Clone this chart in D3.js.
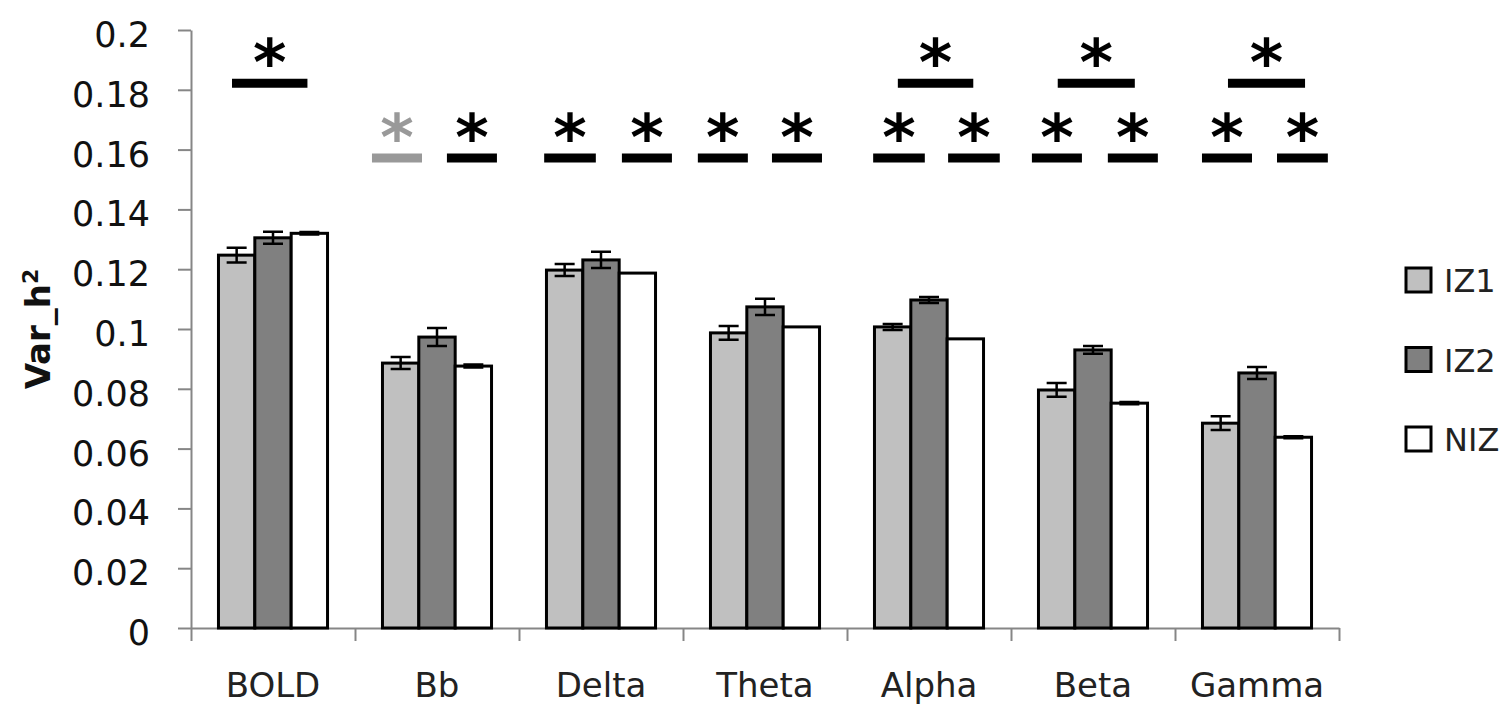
<!DOCTYPE html>
<html>
<head>
<meta charset="utf-8">
<script src="https://cdn.jsdelivr.net/npm/d3@7"></script>
<style>
  body { margin: 0; background: #fff; }
  text { font-family: "DejaVu Sans", Verdana, sans-serif; }
</style>
</head>
<body>
<div id="mainContainer"></div>
<script>
// data
var categories = ["BOLD", "Bb", "Delta", "Theta", "Alpha", "Beta", "Gamma"];
var seriesNames = ["IZ1", "IZ2", "NIZ"];
var legendLabels = ["IZ1", "IZ2", "NIZ"];
var iz1Values = [0.1247, 0.0886, 0.1197, 0.0987, 0.1007, 0.0796, 0.0685];
var iz2Values = [0.1305, 0.0973, 0.1231, 0.1074, 0.1097, 0.0930, 0.0853];
var nizValues = [0.1320, 0.0876, 0.1187, 0.1007, 0.0967, 0.0752, 0.0638];
var iz1Errors = [0.0025, 0.0020, 0.0020, 0.0023, 0.0010, 0.0023, 0.0023];
var iz2Errors = [0.0020, 0.0030, 0.0027, 0.0027, 0.0010, 0.0013, 0.0020];
var nizErrors = [0.0004, 0.0005, 0.0000, 0.0000, 0.0000, 0.0004, 0.0003];
var yTicks = [0, 0.02, 0.04, 0.06, 0.08, 0.1, 0.12, 0.14, 0.16, 0.18, 0.2];
var yTickLabels = ["0", "0.02", "0.04", "0.06", "0.08", "0.1", "0.12", "0.14", "0.16", "0.18", "0.2"];

// significance marks: category, centre within band (0..1), level, span (fraction of band), colour
var sigCats   = ["BOLD", "Bb", "Bb", "Delta", "Delta", "Theta", "Theta", "Alpha", "Alpha", "Alpha", "Beta", "Beta", "Beta", "Gamma", "Gamma", "Gamma"];
var sigPos    = [0.48, 0.256, 0.713, 0.311, 0.78, 0.243, 0.695, 0.317, 0.774, 0.54, 0.28, 0.743, 0.52, 0.317, 0.777, 0.558];
var sigLevels = [0.1822, 0.1572, 0.1572, 0.1572, 0.1572, 0.1572, 0.1572, 0.1572, 0.1572, 0.1822, 0.1572, 0.1572, 0.1822, 0.1572, 0.1572, 0.1822];
var sigSpans  = [0.46, 0.305, 0.305, 0.315, 0.305, 0.305, 0.305, 0.315, 0.315, 0.46, 0.305, 0.305, 0.47, 0.305, 0.31, 0.47];
var sigColors = ["#000", "#999", "#000", "#000", "#000", "#000", "#000", "#000", "#000", "#000", "#000", "#000", "#000", "#000", "#000", "#000"];

var fills = ["#c0c0c0", "#808080", "#ffffff"];
var axisColor = "#868686";

var values = [iz1Values, iz2Values, nizValues];
var errors = [iz1Errors, iz2Errors, nizErrors];

var margin = { top: 30, right: 172, bottom: 82, left: 191 },
    width = 1511 - margin.left - margin.right,
    height = 710 - margin.top - margin.bottom;

var svg = d3.select('#mainContainer').append('svg')
    .attr('width', 1511)
    .attr('height', 710);

var g = svg.append('g')
    .attr('transform', 'translate(' + margin.left + ',' + margin.top + ')');

var xscale = d3.scaleBand()
    .domain(categories)
    .range([0, width])
    .paddingInner(0.335)
    .paddingOuter(0.1675);

var xinner = d3.scaleBand()
    .domain(seriesNames)
    .range([0, xscale.bandwidth()]);

var xedge = d3.scaleLinear()
    .domain([0, categories.length])
    .range([0, width]);

var yscale = d3.scaleLinear()
    .domain([0, 0.2])
    .range([height, 0]);

// y axis
var yAxis = g.append("g")
    .call(d3.axisLeft(yscale)
        .tickValues(yTicks)
        .tickSize(13)
        .tickSizeOuter(0)
        .tickPadding(28)
        .tickFormat(function(d, i) { return yTickLabels[i]; }));
yAxis.select(".domain").attr("stroke", axisColor).style("stroke-width", "2px");
yAxis.selectAll(".tick line").attr("stroke", axisColor).style("stroke-width", "2px");
yAxis.selectAll(".tick text")
    .attr("fill", "#111")
    .attr("font-size", "35px")
    .attr("font-family", "DejaVu Sans")
    .attr("dy", "0.47em");

// x axis with boundary ticks
var xAxisEdge = g.append("g")
    .attr("transform", "translate(0," + height + ")")
    .call(d3.axisBottom(xedge)
        .ticks(categories.length)
        .tickSize(13)
        .tickSizeOuter(0)
        .tickFormat(""));
xAxisEdge.select(".domain").attr("stroke", axisColor).style("stroke-width", "2px");
xAxisEdge.selectAll(".tick line").attr("stroke", axisColor).style("stroke-width", "2px");

var xAxis = g.append("g")
    .attr("transform", "translate(0," + height + ")")
    .call(d3.axisBottom(xscale).tickSize(0).tickPadding(45));
xAxis.select(".domain").remove();
xAxis.selectAll(".tick text")
    .attr("fill", "#222")
    .attr("font-size", "34px")
    .attr("font-family", "DejaVu Sans");

// y title
g.append("text")
    .attr("transform", "rotate(-90)")
    .attr("x", -height / 2)
    .attr("y", -141)
    .attr("text-anchor", "middle")
    .attr("fill", "#111")
    .attr("font-family", "DejaVu Sans")
    .attr("font-weight", "bold")
    .attr("font-size", "34px")
    .text("Var_h")
    .append("tspan")
    .attr("dy", "-0.55em")
    .attr("font-size", "22px")
    .text("2");

// bars
var groups = g.selectAll(".grp")
    .data(categories)
    .enter().append("g")
    .attr("class", "grp")
    .attr("transform", function(d) { return "translate(" + xscale(d) + ",0)"; });

seriesNames.forEach(function(s, si) {
    groups.append("rect")
        .attr("x", xinner(s))
        .attr("y", function(d, i) { return yscale(values[si][i]); })
        .attr("width", xinner.bandwidth())
        .attr("height", function(d, i) { return height - yscale(values[si][i]); })
        .attr("fill", fills[si])
        .attr("stroke", "#000")
        .attr("stroke-width", 3);
});

// error bars
seriesNames.forEach(function(s, si) {
    var cx = xinner(s) + xinner.bandwidth() / 2;
    groups.append("path")
        .attr("fill", "none")
        .attr("stroke", "#000")
        .attr("stroke-width", 2.5)
        .attr("d", function(d, i) {
            var e = errors[si][i];
            if (e <= 0) return null;
            var top = yscale(values[si][i] + e),
                bot = yscale(values[si][i] - e);
            return "M" + cx + "," + top + "V" + bot +
                "M" + (cx - 10) + "," + top + "H" + (cx + 10) +
                "M" + (cx - 10) + "," + bot + "H" + (cx + 10);
        });
});

// significance bars and asterisks
var sig = g.selectAll(".sig")
    .data(sigCats)
    .enter().append("g")
    .attr("class", "sig");

sig.append("line")
    .attr("x1", function(d, i) {
        var k = categories.indexOf(d);
        return xedge(k + sigPos[i] - sigSpans[i] / 2);
    })
    .attr("x2", function(d, i) {
        var k = categories.indexOf(d);
        return xedge(k + sigPos[i] + sigSpans[i] / 2);
    })
    .attr("y1", function(d, i) { return yscale(sigLevels[i]); })
    .attr("y2", function(d, i) { return yscale(sigLevels[i]); })
    .attr("stroke", function(d, i) { return sigColors[i]; })
    .attr("stroke-width", 9);

sig.append("text")
    .attr("x", function(d, i) {
        var k = categories.indexOf(d);
        return xedge(k + sigPos[i]);
    })
    .attr("y", function(d, i) { return yscale(sigLevels[i]) + 2; })
    .attr("text-anchor", "middle")
    .attr("fill", function(d, i) { return sigColors[i]; })
    .attr("font-family", "DejaVu Sans")
    .attr("font-weight", "bold")
    .attr("font-size", "64px")
    .text("*");

// legend
var legend = svg.append("g")
    .attr("transform", "translate(1406,268)");

var items = legend.selectAll(".item")
    .data(seriesNames)
    .enter().append("g")
    .attr("class", "item")
    .attr("transform", function(d, i) { return "translate(0," + i * 79.5 + ")"; });

items.append("rect")
    .attr("width", 25)
    .attr("height", 24)
    .attr("fill", function(d, i) { return fills[i]; })
    .attr("stroke", "#000")
    .attr("stroke-width", 3);

items.append("text")
    .attr("x", 38)
    .attr("y", 24)
    .attr("fill", "#222")
    .attr("font-size", "32px")
    .attr("font-family", "DejaVu Sans")
    .text(function(d, i) { return legendLabels[i]; });
</script>
</body>
</html>
